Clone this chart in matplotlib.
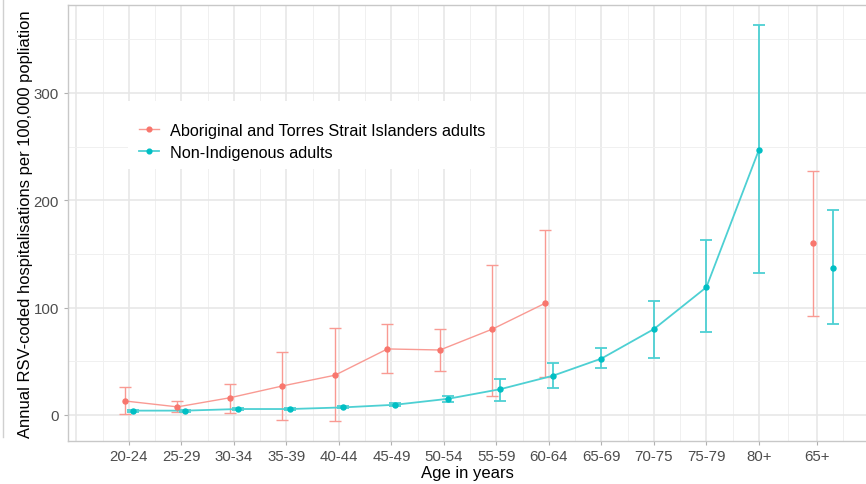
import matplotlib
matplotlib.use("Agg")
import matplotlib.pyplot as plt
from matplotlib.lines import Line2D
from matplotlib.patches import Rectangle
import numpy as np

plt.rcParams['font.family'] = ['Liberation Sans', 'DejaVu Sans']

age_groups = ["20-24", "25-29", "30-34", "35-39", "40-44", "45-49", "50-54",
              "55-59", "60-64", "65-69", "70-75", "75-79", "80+", "65+"]
tick_pos = [1, 2, 3, 4, 5, 6, 7, 8, 9, 10, 11, 12, 13, 14.1]

# Aboriginal and Torres Strait Islanders adults (20-24 .. 60-64, then 65+)
ab_groups = ["20-24", "25-29", "30-34", "35-39", "40-44", "45-49", "50-54", "55-59", "60-64"]
ab_rate = [13, 7.5, 16, 27, 37, 61.5, 60.5, 80, 104]
ab_lo = [1, 3, 2, -5, -6, 39, 41, 18, 35]
ab_hi = [26, 13, 29, 59, 81, 85, 80, 140, 172]
ab_65 = 160
ab_65_lo = 92
ab_65_hi = 227

# Non-Indigenous adults (20-24 .. 80+, then 65+)
ni_groups = ["20-24", "25-29", "30-34", "35-39", "40-44", "45-49", "50-54", "55-59",
             "60-64", "65-69", "70-75", "75-79", "80+"]
ni_rate = [4, 4, 5.5, 5.5, 7, 9.5, 15, 24, 36.5, 52.5, 80, 119, 247]
ni_lo = [3, 3, 4.5, 4.5, 6, 8, 12, 13, 25, 44, 53, 77, 132]
ni_hi = [5, 5, 6.5, 6.5, 8, 11, 18, 33.5, 48, 62, 106, 163, 363]
ni_65 = 137
ni_65_lo = 85
ni_65_hi = 191

red = "#F8766D"
teal = "#00BFC4"
red_line = "#F99A93"
teal_line = "#4DD0D3"

pos = dict(zip(age_groups, tick_pos))
both = set(ab_groups)

# dodge only where both groups share an age band
ab_x = np.array([pos[g] - 0.075 for g in ab_groups])
ni_x = np.array([pos[g] + (0.075 if g in both else 0) for g in ni_groups])
ab_65_x = pos["65+"] - 0.07
ni_65_x = pos["65+"] + 0.31

W, H = 866, 485
fig = plt.figure(figsize=(W / 100, H / 100), dpi=100)
ax = fig.add_axes([68 / W, 1 - 442 / H, 1 - 68 / W, (442 - 6) / H])

# grid
for x in np.arange(0, 15.5, 1):
    ax.axvline(x if x < 14 else x + 0.1, color="#E6E6E6", lw=1.1, zorder=0)
minor_x = [t + 0.5 for t in range(0, 13)] + [13.55, 14.6]
for x in minor_x:
    ax.axvline(x, color="#F0F0F0", lw=0.7, zorder=0)
for y in [0, 100, 200, 300]:
    ax.axhline(y, color="#E6E6E6", lw=1.1, zorder=0)
for y in [50, 150, 250, 350]:
    ax.axhline(y, color="#F0F0F0", lw=0.7, zorder=0)

# white legend panel over the grid
ax.add_patch(Rectangle((128 / W, 1 - 170 / H), (490 - 128) / W, (170 - 102) / H,
                       transform=fig.transFigure, facecolor="white",
                       edgecolor="none", zorder=1))


def draw(x, r, lo, hi, line_c, dot_c, lw, connect=True):
    r = np.asarray(r, dtype=float)
    err = [r - np.asarray(lo), np.asarray(hi) - r]
    if connect:
        ax.plot(x, r, color=line_c, lw=lw, zorder=3)
    ax.errorbar(x, r, yerr=err, fmt="none", ecolor=line_c, elinewidth=lw,
                capsize=4, capthick=lw, zorder=3)
    ax.plot(x, r, "o", ms=3.6, color=dot_c, zorder=4)


draw(ab_x, ab_rate, ab_lo, ab_hi, red_line, red, 1.0)
draw([ab_65_x], [ab_65], [ab_65_lo], [ab_65_hi], red_line, red, 1.0, connect=False)
draw(ni_x, ni_rate, ni_lo, ni_hi, teal_line, teal, 1.3)
draw([ni_65_x], [ni_65], [ni_65_lo], [ni_65_hi], teal_line, teal, 1.3, connect=False)

ax.set_xlim(-0.16, 15.04)
ax.set_ylim(-24.3, 382)
ax.set_xticks(tick_pos)
ax.set_xticklabels(age_groups)
ax.set_yticks([0, 100, 200, 300])
ax.tick_params(axis="both", colors="#B0B0B0", labelcolor="#4D4D4D",
               labelsize=10.8, length=3, width=0.8)
ax.tick_params(axis="x", pad=3)

for s in ["left", "top", "bottom"]:
    ax.spines[s].set_color("#C8C8C8")
    ax.spines[s].set_linewidth(1.0)
ax.spines["right"].set_visible(False)

ax.set_xlabel("Age in years", fontsize=12, color="black", labelpad=1)
ax.set_ylabel("Annual RSV-coded hospitalisations per 100,000 popliation",
              fontsize=11.9, color="black", labelpad=0.5)

handles = [Line2D([0], [0], color=red_line, lw=1.0, marker="o", ms=3.4,
                  markerfacecolor=red, markeredgecolor=red),
           Line2D([0], [0], color=teal_line, lw=1.3, marker="o", ms=3.4,
                  markerfacecolor=teal, markeredgecolor=teal)]
leg = ax.legend(handles, ["Aboriginal and Torres Strait Islanders adults",
                          "Non-Indigenous adults"],
                loc="upper left", bbox_to_anchor=(139 / W, 1 - 124 / H),
                bbox_transform=fig.transFigure, fontsize=11.7, frameon=False,
                handlelength=1.2, handletextpad=0.7, borderpad=0,
                labelspacing=0.42, borderaxespad=0)
leg.set_zorder(5)

# faint frame line at the far left
fig.add_artist(Line2D([3 / W, 3 / W], [1 - 438 / H, 1.0],
                      transform=fig.transFigure, color="#D0D0D0", lw=1))

fig.savefig("out.png", dpi=100)
